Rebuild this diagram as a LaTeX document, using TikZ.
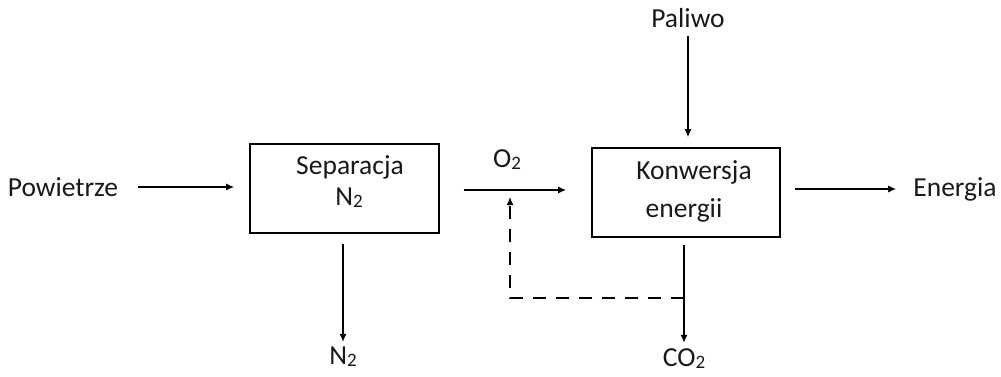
\documentclass[tikz,border=0pt]{standalone}
\usepackage{fontspec}
\setmainfont{Carlito}
\usetikzlibrary{arrows.meta}
\newcommand{\mysubtwo}{\raisebox{-2pt}{\fontsize{19}{19}\selectfont 2}}
\begin{document}
\begin{tikzpicture}[x=1pt,y=-1pt,
  lbl/.style={inner sep=0pt,font=\fontsize{27.5}{30}\selectfont,text=black!90},
  box/.style={draw,line width=1.6pt,minimum width=#1,minimum height=89pt,inner sep=0pt},
  flow/.style={line width=1.4pt,-{Latex[length=8pt,width=7pt]}},
  back/.style={line width=1.4pt,dash pattern=on 13pt off 10pt,-{Latex[length=8pt,width=7pt]}}]
\useasboundingbox (0,0) rectangle (1001,376);
% boxes
\node[box=189pt] (sep) at (344.5,188.5) {};
\node[box=188pt] (konw) at (686,192.5) {};
% box texts
\node[lbl] (septxt) at (350,167) {Separacja};
\node[lbl] (sepn) at (349,198) {N\mysubtwo};
\node[lbl] (konwtxt) at (694,172) {Konwersja};
\node[lbl] (energii) at (684,210) {energii};
% outside labels
\node[lbl] (pow) at (63,187) {Powietrze};
\node[lbl] (o2) at (507,160) {O\mysubtwo};
\node[lbl] (paliwo) at (688,18) {Paliwo};
\node[lbl] (energia) at (955,189) {Energia};
\node[lbl] (n2) at (343,357) {N\mysubtwo};
\node[lbl] (co2) at (684,359) {CO\mysubtwo};
% connectors
\draw[flow,shorten <=20pt,shorten >=15pt] (pow.east) -- (pow.east -| sep.west);
\draw[flow,shorten <=24pt,shorten >=25pt] (sep.east |- 0,190) -- (konw.west |- 0,190);
\draw[flow,shorten <=14pt,shorten >=17pt] (konw.east |- energia) -- (energia.west);
\draw[flow,shorten <=8pt,shorten >=10pt] (paliwo.south) -- (paliwo.south |- konw.north);
\draw[flow,shorten <=10pt,shorten >=5pt] (n2.north |- sep.south) -- (n2.north);
\draw[flow,shorten <=7pt,shorten >=6pt] (co2.north |- konw.south) -- (co2.north);
\coordinate (tap) at (684,298);
\draw[back] (tap) -| (510,197);
\end{tikzpicture}
\end{document}
